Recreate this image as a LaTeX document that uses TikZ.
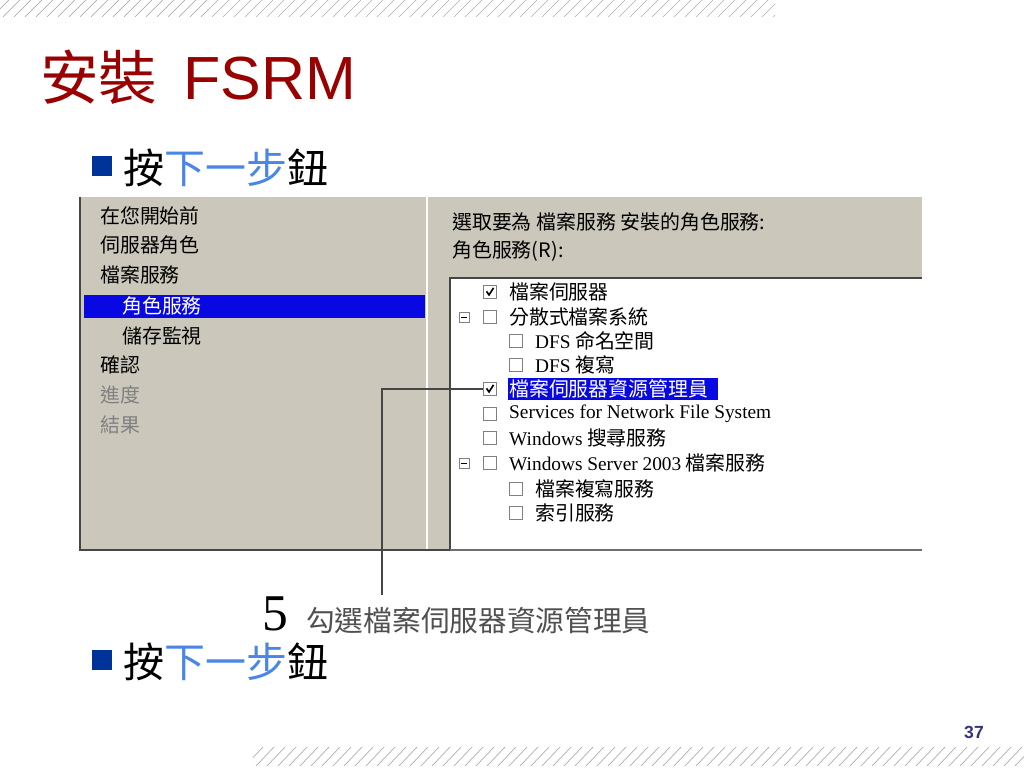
\documentclass[tikz,border=0pt]{standalone}
\usepackage{fontspec}
\setmainfont{Liberation Serif}
\newfontfamily\cjk{Noto Sans CJK TC}
\newfontfamily\arial{Liberation Sans}
\usepackage{tikz}
\definecolor{titlered}{RGB}{153,0,0}
\definecolor{bulletblue}{RGB}{0,51,153}
\definecolor{stepblue}{RGB}{74,134,232}
\definecolor{wingrey}{RGB}{203,200,187}
\definecolor{hlblue}{RGB}{8,8,226}
\definecolor{hatchgrey}{RGB}{175,175,175}
\definecolor{pageblue}{RGB}{51,51,128}
\tikzset{
  navitem/.style={anchor=west, inner sep=0, font=\cjk\fontsize{17}{20}\selectfont},
  treeitem/.style={anchor=west, inner sep=0, font=\cjk\fontsize{17}{20}\selectfont},
  chk/.style={draw={rgb,255:red,128;green,128;blue,128}, fill=white, line width=0.6pt, minimum size=11pt, inner sep=0},
  expander/.style={draw={rgb,255:red,128;green,128;blue,128}, fill=white, line width=0.5pt, minimum size=8.5pt, inner sep=0},
  callline/.style={draw={rgb,255:red,70;green,70;blue,70}, line width=1.3pt},
  framedark/.style={draw={rgb,255:red,70;green,70;blue,70}, line width=1.6pt},
  hatch/.style={draw=hatchgrey, line width=0.6pt}
}
% tick mark inside a checkbox node
\def\tickbox#1{
  \draw[line width=1.4pt] ([xshift=-3pt,yshift=0.5pt]#1.center) -- ([xshift=-0.8pt,yshift=-2.5pt]#1.center) -- ([xshift=3pt,yshift=3.5pt]#1.center);
}
% minus sign of an expander node
\def\minus#1{
  \draw[line width=0.6pt] ([xshift=-2.3pt]#1.center) -- ([xshift=2.3pt]#1.center);
}
\begin{document}
\begin{tikzpicture}[x=0.03cm, y=-0.03cm]
  \useasboundingbox (0,0) rectangle (1024,768);
  \fill[white] (0,0) rectangle (1024,768);
  % hatched bands
  \begin{scope}
    \clip (0,0) rectangle (775,17);
    \foreach \i in {0,...,72} \draw[hatch] (\i*11-8,17) -- ++(17,-17);
  \end{scope}
  \begin{scope}
    \clip (253,747) rectangle (1024,766);
    \foreach \i in {0,...,72} \draw[hatch] (245+\i*11,766) -- ++(18,-19);
  \end{scope}
  % title
  \node[anchor=base west, inner sep=0, text=titlered, font=\arial\fontsize{52}{60}\selectfont] (title) at (40,100)
    {{\cjk\fontsize{50}{52}\selectfont 安裝}\hspace{8pt} FSRM};
  % bullets
  \node[fill=bulletblue, minimum size=17pt, inner sep=0] (b1) at (102,166) {};
  \node[anchor=west, inner sep=0, font=\cjk\fontsize{35}{40}\selectfont] (step1) at (123,168)
    {按\textcolor{stepblue}{下一步}鈕};
  \node[fill=bulletblue, minimum size=17pt, inner sep=0] (b2) at (102,660) {};
  \node[anchor=west, inner sep=0, font=\cjk\fontsize{35}{40}\selectfont] (step2) at (123,662)
    {按\textcolor{stepblue}{下一步}鈕};
  % screenshot
  \fill[wingrey] (80,197) rectangle (922,550);
  \fill[white] (450,278) rectangle (922,550);
  \draw[white, line width=1.8pt] (427,197) -- (427,550);
  \draw[framedark] (450,550) -- (450,278) -- (922,278);
  \draw[framedark] (80,197) -- (80,550) -- (450,550);
  \draw[draw={rgb,255:red,110;green,110;blue,110}, line width=1.6pt] (450,550) -- (922,550);
  \fill[hlblue] (84,295) rectangle (425,318);
  \node[navitem] (nav1) at (100,216) {在您開始前};
  \node[navitem] (nav2) at (100,245) {伺服器角色};
  \node[navitem] (nav3) at (100,275) {檔案服務};
  \node[navitem, text=white] (nav4) at (122,306) {角色服務};
  \node[navitem] (nav5) at (122,336) {儲存監視};
  \node[navitem] (nav6) at (100,365) {確認};
  \node[navitem, text=gray] (nav7) at (100,395) {進度};
  \node[navitem, text=gray] (nav8) at (100,425) {結果};
  \node[treeitem] (head) at (452,222) {選取要為 檔案服務 安裝的角色服務:};
  \node[treeitem] (rsvc) at (452,251) {角色服務(R):};
  % role service tree
  \fill[hlblue] (508,378) rectangle (718,400);
  \node[chk] (c1) at (490,292) {};  \tickbox{c1}
  \node[treeitem] (t1) at (509,292) {檔案伺服器};
  \node[expander] (e2) at (464,317) {}; \minus{e2}
  \node[chk] (c2) at (490,317) {};
  \node[treeitem] (t2) at (509,317) {分散式檔案系統};
  \node[chk] (c3) at (516,341) {};
  \node[treeitem] (t3) at (535,341) {{\fontsize{16.5}{20}\selectfont\rmfamily DFS} 命名空間};
  \node[chk] (c4) at (516,365) {};
  \node[treeitem] (t4) at (535,365) {{\fontsize{16.5}{20}\selectfont\rmfamily DFS} 複寫};
  \node[chk] (c5) at (490,389) {};  \tickbox{c5}
  \node[treeitem, text=white] (t5) at (509,389) {檔案伺服器資源管理員};
  \node[chk] (c6) at (490,414) {};
  \node[treeitem, font=\rmfamily\fontsize{16.5}{20}\selectfont] (t6) at (509,414) {Services for Network File System};
  \node[chk] (c7) at (490,438) {};
  \node[treeitem] (t7) at (509,438) {{\fontsize{16.5}{20}\selectfont\rmfamily Windows} 搜尋服務};
  \node[expander] (e8) at (464,463) {}; \minus{e8}
  \node[chk] (c8) at (490,463) {};
  \node[treeitem] (t8) at (509,463) {{\fontsize{16.5}{20}\selectfont\rmfamily Windows Server 2003} 檔案服務};
  \node[chk] (c9) at (516,489) {};
  \node[treeitem] (t9) at (535,489) {檔案複寫服務};
  \node[chk] (c10) at (516,513) {};
  \node[treeitem] (t10) at (535,513) {索引服務};
  % callout
  \coordinate (callend) at (382,595);
  \draw[callline] (c5.west) -| (callend);
  \node[anchor=base west, inner sep=0, font=\rmfamily\fontsize{44}{48}\selectfont] (num) at (262,630) {5};
  \node[anchor=west, inner sep=0, text={rgb,255:red,80;green,80;blue,80}, font=\cjk\fontsize{24.5}{28}\selectfont] (calltext) at (306,621)
    {勾選檔案伺服器資源管理員};
  % page number
  \node[text=pageblue, font=\arial\bfseries\fontsize{15}{17}\selectfont] (pageno) at (974,732) {37};
\end{tikzpicture}
\end{document}
